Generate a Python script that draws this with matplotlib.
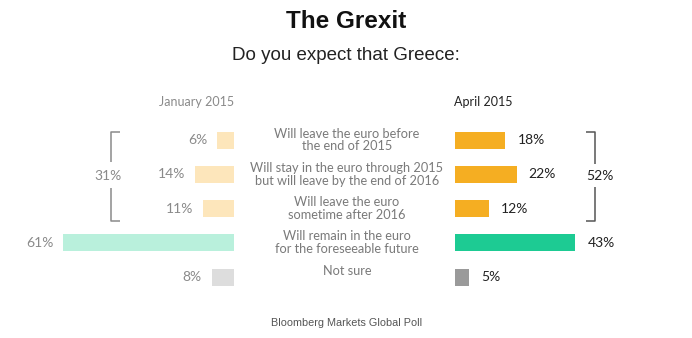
import matplotlib
matplotlib.use("Agg")
import matplotlib.pyplot as plt

# data
categories = [
    "Will leave the euro before\nthe end of 2015",
    "Will stay in the euro through 2015\nbut will leave by the end of 2016",
    "Will leave the euro\nsometime after 2016",
    "Will remain in the euro\nfor the foreseeable future",
    "Not sure",
]
jan_2015 = [6, 14, 11, 61, 8]
apr_2015 = [18, 22, 12, 43, 5]
jan_leave_total = 31
apr_leave_total = 52

jan_colors = ["#fde6bb", "#fde6bb", "#fde6bb", "#b9f0dc", "#dddddd"]
apr_colors = ["#f5ae22", "#f5ae22", "#f5ae22", "#1dcb93", "#9a9a9a"]

W, H = 692, 338
fig = plt.figure(figsize=(W / 100, H / 100), dpi=100)
ax = fig.add_axes([0, 0, 1, 1])
ax.set_xlim(0, W)
ax.set_ylim(H, 0)
ax.axis("off")

px = 2.8          # pixels per percent
left_base = 234   # right edge of January bars
right_base = 455  # left edge of April bars
row_y = [140 + 34.3 * i for i in range(len(categories))]
bar_h = 17

lab_font = "Lato"
head_font = "Liberation Sans"

# bars
ax.barh(row_y, [-v * px for v in jan_2015], left=left_base, height=bar_h,
        color=jan_colors, linewidth=0)
ax.barh(row_y, [v * px for v in apr_2015], left=right_base, height=bar_h,
        color=apr_colors, linewidth=0)

for i, (y, cat) in enumerate(zip(row_y, categories)):
    ax.text(left_base - jan_2015[i] * px - 10, y, f"{jan_2015[i]}%",
            ha="right", va="center", fontsize=10, color="#8a8a8a",
            family=lab_font)
    ax.text(right_base + apr_2015[i] * px + 12, y, f"{apr_2015[i]}%",
            ha="left", va="center", fontsize=10, color="#222222",
            family=lab_font)
    cy = y if "\n" in cat else y - 6
    ax.text(347, cy, cat, ha="center", va="center", fontsize=9.2,
            color="#7a7a7a", family=lab_font, linespacing=1.08)

# brackets
def bracket(x, tick, y0, y1, g0, g1, color):
    ax.plot([x + tick, x, x], [y0, y0, g0], color=color, lw=1.1,
            solid_capstyle="butt")
    ax.plot([x, x, x + tick], [g1, y1, y1], color=color, lw=1.1,
            solid_capstyle="butt")

bracket(111, 9, 132, 221, 162, 188, "#8a8a8a")
bracket(595, -9, 132, 221, 164, 187, "#555555")
ax.text(108, 176, f"{jan_leave_total}%", ha="center", va="center",
        fontsize=10, color="#8a8a8a", family=lab_font)
ax.text(600, 176, f"{apr_leave_total}%", ha="center", va="center",
        fontsize=10, color="#222222", family=lab_font)

# headings
ax.text(346, 21, "The Grexit", ha="center", va="center", fontsize=17.5,
        fontweight="bold", color="#111111", family=head_font)
ax.text(346, 56, "Do you expect that Greece:", ha="center", va="center",
        fontsize=13.5, color="#222222", family=head_font)
ax.text(197, 102, "January 2015", ha="center", va="center", fontsize=9,
        color="#8a8a8a", family=lab_font)
ax.text(483, 102, "April 2015", ha="center", va="center", fontsize=9,
        color="#222222", family=lab_font)
ax.text(347, 323, "Bloomberg Markets Global Poll", ha="center", va="center",
        fontsize=7.8, color="#555555", family=head_font)

fig.savefig("out.png", dpi=100)
